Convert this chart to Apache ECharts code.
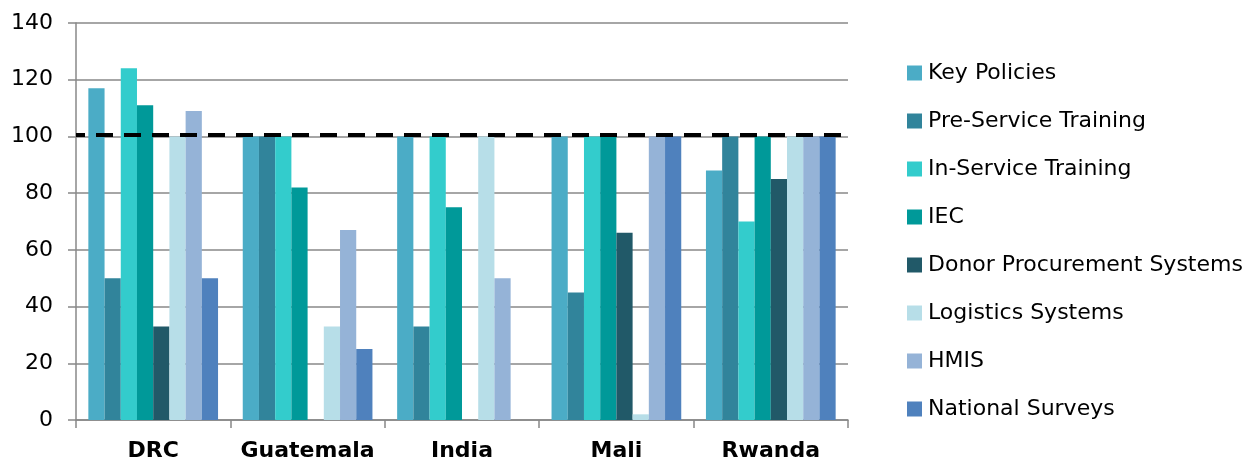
<!DOCTYPE html>
<html>
<head>
<meta charset="utf-8">
<script src="https://cdn.jsdelivr.net/npm/echarts@6/dist/echarts.min.js"></script>
<style>
  html, body { margin: 0; padding: 0; background: #ffffff; }
  #chart { width: 1250px; height: 463px; }
</style>
</head>
<body>
<div id="chart"></div>
<script>
// Countries along the x axis
const countries = ['DRC', 'Guatemala', 'India', 'Mali', 'Rwanda'];

// One array per component, values per country (same order as countries)
const keyPolicies        = [117, 100, 100, 100, 88];
const preServiceTraining = [50, 100, 33, 45, 100];
const inServiceTraining  = [124, 100, 100, 100, 70];
const iec                = [111, 82, 75, 100, 100];
const donorProcurement   = [33, 0, 0, 66, 85];
const logisticsSystems   = [100, 33, 100, 2, 100];
const hmis               = [109, 67, 50, 100, 100];
const nationalSurveys    = [50, 25, 0, 100, 100];

const seriesNames = ['Key Policies', 'Pre-Service Training', 'In-Service Training', 'IEC',
  'Donor Procurement Systems', 'Logistics Systems', 'HMIS', 'National Surveys'];
const seriesValues = [keyPolicies, preServiceTraining, inServiceTraining, iec,
  donorProcurement, logisticsSystems, hmis, nationalSurveys];
const seriesColors = ['#4BACC6', '#31849B', '#33CCCC', '#009999',
  '#215968', '#B7DEE8', '#95B3D7', '#4F81BD'];

// Target level shown as the dashed reference line
const targetLevel = 100.7;

const yTicks = { min: 0, max: 140, interval: 20 };

const textFont = 'DejaVu Sans';

const series = seriesNames.map((name, i) => {
  const s = {
    name: name,
    type: 'bar',
    data: seriesValues[i],
    barGap: '0%',
    barCategoryGap: '16%',
    itemStyle: { color: seriesColors[i] },
    emphasis: { disabled: true },
    z: 2
  };
  if (i === seriesNames.length - 1) {
    s.markLine = {
      silent: true,
      symbol: 'none',
      label: { show: false },
      lineStyle: { color: '#000000', width: 4, type: [17, 11], dashOffset: 8 },
      data: [{ yAxis: targetLevel }],
      z: 10
    };
  }
  return s;
});

const chart = echarts.init(document.getElementById('chart'), null, { renderer: 'canvas' });
chart.setOption({
  animation: false,
  backgroundColor: '#ffffff',
  grid: { left: 76, right: 402, top: 23, bottom: 43, containLabel: false },
  legend: {
    orient: 'vertical',
    left: 907,
    top: 62,
    padding: 0,
    itemWidth: 15,
    itemHeight: 15,
    itemGap: 26,
    icon: 'rect',
    textStyle: { fontFamily: textFont, fontSize: 22, lineHeight: 22, color: '#000000', padding: [0, 0, 0, 1] },
    data: seriesNames
  },
  xAxis: {
    type: 'category',
    data: countries,
    axisLine: { lineStyle: { color: '#888888', width: 1.5 } },
    axisTick: { show: true, interval: 0, length: 8, lineStyle: { color: '#888888', width: 1.5 } },
    axisLabel: { interval: 0, fontFamily: textFont, fontWeight: 'bold', fontSize: 22, color: '#000000', margin: 20 }
  },
  yAxis: {
    type: 'value',
    min: yTicks.min,
    max: yTicks.max,
    interval: yTicks.interval,
    axisLine: { show: true, lineStyle: { color: '#888888', width: 1.5 } },
    axisTick: { show: true, length: 8, lineStyle: { color: '#888888', width: 1.5 } },
    splitLine: { lineStyle: { color: '#888888', width: 1.5 } },
    axisLabel: { fontFamily: textFont, fontSize: 22, color: '#000000', margin: 23 }
  },
  series: series
});
</script>
</body>
</html>
